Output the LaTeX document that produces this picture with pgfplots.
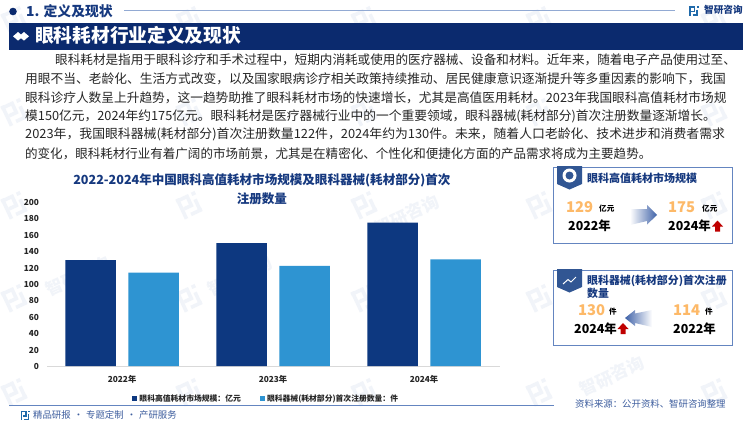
\documentclass[border=0pt]{standalone}
\usepackage{fontspec}
\usepackage{pgfplots}
\pgfplotsset{compat=1.18}
\setmainfont{Noto Sans CJK SC}
\definecolor{navy}{HTML}{0B2A6E}
\definecolor{bardark}{HTML}{0D3880}
\definecolor{barlight}{HTML}{2E94D2}
\definecolor{ttl}{HTML}{16397F}
\definecolor{frame}{HTML}{6485C0}
\definecolor{wm}{HTML}{F1F4F9}
\definecolor{org}{HTML}{FDB968}
\definecolor{srcc}{HTML}{3F5F9F}
\definecolor{arrowblue}{HTML}{3F62A8}
\newcommand\fs[1]{\fontsize{#1bp}{#1bp}\selectfont}
\newcommand\TL[4]{\node[anchor=west,inner sep=0pt,text=#3] at (#1) {#4};}
\newcommand\PL[3]{\node[anchor=west,inner sep=0pt,text=black!85,xscale=#2,font=\fs{12.7}] at (#1) {#3};}
\newcommand\logo[4]{\begin{scope}[shift={(#1)},scale=#2,rotate=#3,line width=#2*1.8bp,draw=#4,line cap=butt,xshift=-5.5bp,yshift=5.5bp]
\draw (0,1)--(6,1)--(6,6)--(2,6);
\draw (1,0)--(1,11);
\draw (4,10)--(10,10);
\draw (9,4)--(9,10);
\draw (8.5,1)--(10.5,1);
\end{scope}}
\begin{document}
\begin{tikzpicture}[x=1bp,y=-1bp]
\useasboundingbox (0,0) rectangle (750,422);
\fill[white] (0,0) rectangle (750,422);
% watermarks
\foreach \cx in {15,190,365,540,715}{
 \foreach \cy in {20,112,205,298,392}{
  \logo{\cx,\cy}{2}{25}{wm}
 }}
\foreach \wx/\wy in {78/276,240/276,407/215,612/376}{
  \node[rotate=25,text=wm,inner sep=0pt] at (\wx,\wy) {\fs{17}\bfseries 智研咨询};
}
% header
\fill[navy] (13,11.5) circle (3.8);
\TL{26,11.2}{navy}{ttl}{\fs{13.8}\bfseries 1. 定义及现状}
\draw[color=frame!70,line width=1.2bp] (124,10.5)--(675,10.5);
\logo{694,11}{0.95}{0}{barlight!60!navy}
\TL{704,10}{navy}{ttl}{\fs{9.6}\bfseries 智研咨询}
% banner
\fill[navy] (9,23) rectangle (743,49.5);
\fill[white] (13,36.3)--(18,32)--(21,34.5)--(24,32)--(29,36.3)--(24,40.6)--(21,38.2)--(18,40.6)--cycle;
\TL{35,35.5}{white}{white}{\fs{18.7}\bfseries 眼科耗材行业定义及现状}
% paragraph
\PL{55,60}{0.9926}{眼科耗材是指用于眼科诊疗和手术过程中，短期内消耗或使用的医疗器械、设备和材料。近年来，随着电子产品使用过至、}
\PL{25,78.7}{1.003}{用眼不当、老龄化、生活方式改变，以及国家眼病诊疗相关政策持续推动、居民健康意识逐渐提升等多重因素的影响下，我国}
\PL{25,97.3}{1}{眼科诊疗人数呈上升趋势，这一趋势助推了眼科耗材市场的快速增长，尤其是高值医用耗材。2023年我国眼科高值耗材市场规}
\PL{25,116}{1.003}{模150亿元，2024年约175亿元。眼科耗材是医疗器械行业中的一个重要领域，眼科器械(耗材部分)首次注册数量逐渐增长。}
\PL{25,134.7}{1.012}{2023年，我国眼科器械(耗材部分)首次注册数量122件，2024年约为130件。未来，随着人口老龄化、技术进步和消费者需求}
\PL{25,153.3}{0.986}{的变化，眼科耗材行业有着广阔的市场前景，尤其是在精密化、个性化和便捷化方面的产品需求将成为主要趋势。}
% chart
\begin{axis}[
 at={(47bp,-366bp)},anchor=south west,scale only axis,
 width=452.5bp,height=164bp,
 xmin=-0.497,xmax=2.5,ymin=0,ymax=200,
 ytick={0,20,40,60,80,100,120,140,160,180,200},
 xtick={0,1,2},xticklabels={2022年,2023年,2024年},
 axis x line*=bottom,axis y line*=left,
 y axis line style={draw=none},
 x axis line style={draw=black!15,line width=0.7bp},
 major tick length=0pt,
 tick label style={font=\fs{8.3}\bfseries,text=black!85},
 /pgf/number format/assume math mode=true,
 yticklabel style={xshift=-4.5bp,yshift=-0.5bp},
 xticklabel style={yshift=-6bp},
 title={2022-2024年中国眼科高值耗材市场规模及眼科器械(耗材部分)首次\\[5bp]注册数量},
 title style={align=center,font=\fs{12.55}\bfseries,text=ttl,at={(0.475,1.042)},anchor=center,inner sep=0pt},
 legend columns=2,
 legend style={at={(0.188,-0.2)},anchor=west,draw=none,fill=none,inner sep=0pt,font=\fs{7.8}\bfseries,text=black!85,
  /tikz/every even column/.style={column sep=17bp}},
 legend image code/.code={\fill[#1] (0bp,-2.6bp) rectangle (5.2bp,2.6bp);},
 legend cell align=left,
]
\addplot[ybar,fill=bardark,draw=none,bar width=50.5bp,bar shift=-31.5bp] coordinates {(0,129) (1,150) (2,175)};
\addlegendentry{眼科高值耗材市场规模：亿元}
\addplot[ybar,fill=barlight,draw=none,bar width=50.5bp,bar shift=31.5bp] coordinates {(0,114) (1,122) (2,130)};
\addlegendentry{眼科器械(耗材部分)首次注册数量：件}
\end{axis}
% box 1
\draw[frame,line width=0.9bp] (553.5,167.5) rectangle (732,243);
\fill[bardark!85!white] (557,166)--(582,166)--(582,184)--(569.5,189.5)--(557,184)--cycle;
\fill[white] (569.5,175.5) circle (7);
\fill[bardark!85!white] (569.5,175.5) circle (4);
\TL{587,178}{ttl}{ttl}{\fs{11}\bfseries 眼科高值耗材市场规模}
\TL{566,207.5}{org}{org}{\fs{14.8}\bfseries 129}
\TL{599,209}{black}{black}{\fs{7.6}\bfseries 亿元}
\TL{568,226}{black}{black}{\fs{12.4}\bfseries 2022年}
\shade[left color=white,right color=arrowblue] (630,209)--(647,209)--(647,205)--(657,215)--(647,224.5)--(647,221)--(630,225)--cycle;
\TL{668,207.5}{org}{org}{\fs{14.8}\bfseries 175}
\TL{702,209}{black}{black}{\fs{7.6}\bfseries 亿元}
\TL{668,226}{black}{black}{\fs{12.4}\bfseries 2024年}
\fill[red!75!black] (717.5,220.5)--(723,226.5)--(720,226.5)--(720,231.5)--(715,231.5)--(715,226.5)--(712,226.5)--cycle;
% box 2
\draw[frame,line width=0.9bp] (553.5,270) rectangle (732,345.5);
\fill[bardark!85!white] (557,269)--(582,269)--(582,287)--(569.5,292.5)--(557,287)--cycle;
\draw[white,line width=1bp] (563,284)--(568,279.5)--(571,282)--(576,277);
\TL{587,281}{ttl}{ttl}{\fs{10.9}\bfseries 眼科器械(耗材部分)首次注册}
\TL{587,293.5}{ttl}{ttl}{\fs{10.9}\bfseries 数量}
\TL{578,310.5}{org}{org}{\fs{14.8}\bfseries 130}
\TL{609,311.5}{black}{black}{\fs{7.6}\bfseries 件}
\TL{574,328.5}{black}{black}{\fs{12.4}\bfseries 2024年}
\fill[red!75!black] (623,323)--(628.5,329)--(625.5,329)--(625.5,334)--(620.5,334)--(620.5,329)--(617.5,329)--cycle;
\shade[left color=arrowblue,right color=white] (652,310)--(635,313.5)--(635,310)--(625,318)--(635,326)--(635,323)--(652,327)--cycle;
\TL{673,310.5}{org}{org}{\fs{14.8}\bfseries 114}
\TL{705,311.5}{black}{black}{\fs{7.6}\bfseries 件}
\TL{673,328.5}{black}{black}{\fs{12.4}\bfseries 2022年}
% footer
\draw[frame,line width=1bp] (9,405)--(554,405);
\logo{25.5,415.5}{0.85}{0}{barlight!60!navy}
\TL{33,415}{srcc}{srcc}{\fs{9.4}精品研报\hspace{3bp}·\hspace{3bp}专题定制\hspace{3bp}·\hspace{3bp}产研服务}
\TL{575,404}{srcc}{srcc}{\fs{9.4}资料来源：公开资料、智研咨询整理}
\end{tikzpicture}
\end{document}
